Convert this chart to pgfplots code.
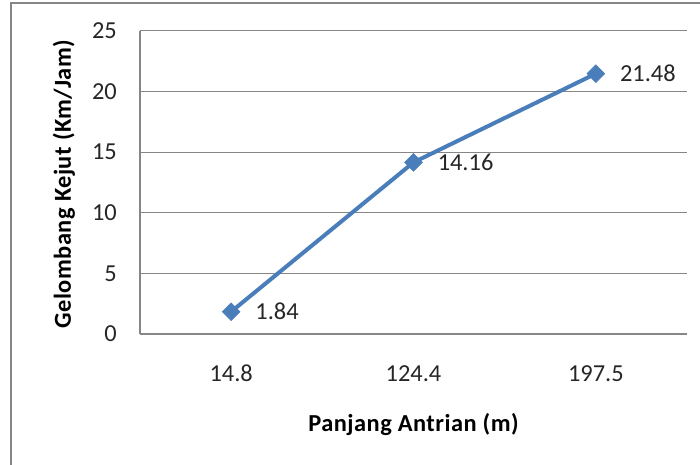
\documentclass[border=0pt]{standalone}
\usepackage{fontspec}
\setmainfont{Carlito}
\usepackage{pgfplots}
\pgfplotsset{compat=1.18}
\definecolor{excelblue}{RGB}{74,126,187}
\definecolor{gridgray}{RGB}{134,134,134}
\begin{document}
\begin{tikzpicture}
\begin{axis}[
  at={(140bp,131bp)}, anchor=south west,
  scale only axis, width=547bp, height=303bp,
  xmin=-0.5, xmax=2.5, ymin=0, ymax=25,
  xtick={0,1,2}, xticklabels={14.8,124.4,197.5},
  ytick={0,5,10,15,20,25},
  axis lines=left, axis line style={-, draw=gridgray, line width=1.3bp},
  ymajorgrids, grid style={draw=gridgray, line width=1bp},
  major tick length=0pt,
  tick label style={font=\fontsize{24.4bp}{29bp}\selectfont, text=black!85, inner sep=0pt},
  /pgf/number format/assume math mode=true,
  yticklabel style={anchor=east, xshift=-23bp},
  xticklabel style={anchor=north, yshift=-31bp},
  xlabel={Panjang Antrian (m)}, ylabel={Gelombang Kejut (Km/Jam)},
  label style={font=\bfseries\fontsize{24.4bp}{29bp}\selectfont\addfontfeatures{LetterSpace=2}, inner sep=0pt, text=black},
  xlabel style={at={(axis description cs:0.5,0)}, anchor=north, yshift=-79bp},
  ylabel style={at={([xshift=-69bp]axis description cs:0,0.495)}, anchor=base},
  point meta=explicit symbolic,
  nodes near coords,
  every node near coord/.append style={anchor=west, xshift=24bp, inner sep=0pt, font=\fontsize{24.4bp}{29bp}\selectfont, text=black!85},
]
\addplot[excelblue, line width=4bp, mark=square*, mark size=6.3bp,
  mark options={rotate=45, solid, fill=excelblue, line width=0.5bp}]
  coordinates {(0,1.84) [1.84] (1,14.16) [14.16] (2,21.48) [21.48]};
\end{axis}
\draw[gridgray, line width=2.5bp] (11bp,-10bp) -- (11bp,462bp) -- (710bp,462bp);
\pgfresetboundingbox
\useasboundingbox (0,0) rectangle (700bp,465bp);
\end{tikzpicture}
\end{document}
